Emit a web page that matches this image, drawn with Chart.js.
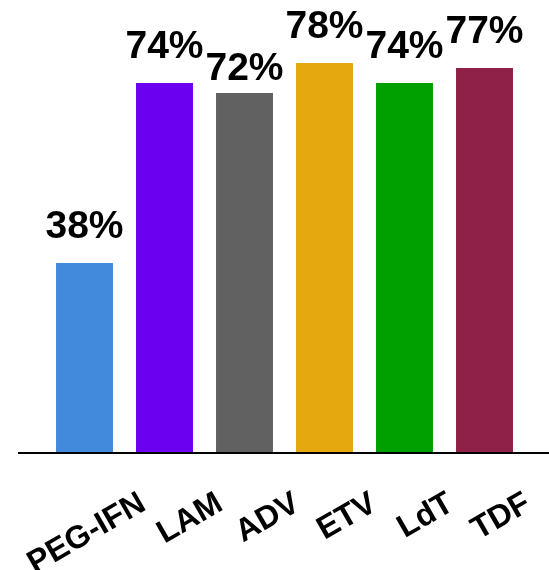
<!DOCTYPE html>
<html>
<head>
<meta charset="utf-8">
<script src="https://cdn.jsdelivr.net/npm/chart.js@4/dist/chart.umd.min.js"></script>
<style>
  html, body { margin: 0; padding: 0; background: #ffffff; }
  #wrap { position: relative; width: 549px; height: 570px; }
</style>
</head>
<body>
<div id="wrap"><canvas id="chart"></canvas></div>
<script>
// Treatment arms and their response rates (%)
const treatments = ['PEG-IFN', 'LAM', 'ADV', 'ETV', 'LdT', 'TDF'];
const responseRates = [38, 74, 72, 78, 74, 77];
const barColors = ['#428adc', '#6b00f0', '#616161', '#e5a80e', '#00a000', '#8f2148'];

const FONT = '"Liberation Sans", Arial, Helvetica, sans-serif';

// Percentage labels above bars, rotated category names below, and the base line
const annotate = {
  id: 'annotate',
  afterDatasetsDraw(chart, args, opts) {
    const ctx = chart.ctx;
    const meta = chart.getDatasetMeta(0);
    const yScale = chart.scales.y;
    const baseY = yScale.getPixelForValue(0);

    ctx.save();
    // base line
    ctx.strokeStyle = '#000000';
    ctx.lineWidth = 2;
    ctx.beginPath();
    ctx.moveTo(opts.lineStart, baseY);
    ctx.lineTo(chart.width, baseY);
    ctx.stroke();

    // value labels
    ctx.fillStyle = '#000000';
    ctx.font = 'bold 39px ' + FONT;
    ctx.textAlign = 'center';
    ctx.textBaseline = 'alphabetic';
    meta.data.forEach((bar, i) => {
      const drop = opts.labelDrop[i] || 0;
      ctx.fillText(responseRates[i] + '%', bar.x, bar.y - opts.labelGap + drop);
    });

    // category names, rotated
    ctx.font = 'bold 32px ' + FONT;
    ctx.textAlign = 'right';
    meta.data.forEach((bar, i) => {
      ctx.save();
      ctx.translate(bar.x + opts.nameShift - opts.nameDrift * i, opts.nameY);
      ctx.rotate(-Math.PI / 6);
      ctx.fillText(treatments[i], 0, 0);
      ctx.restore();
    });
    ctx.restore();
  }
};

new Chart(document.getElementById('chart'), {
  type: 'bar',
  data: {
    labels: treatments,
    datasets: [{
      data: responseRates,
      backgroundColor: barColors,
      borderWidth: 0,
      categoryPercentage: 0.8,
      barPercentage: 0.89
    }]
  },
  options: {
    responsive: true,
    maintainAspectRatio: false,
    animation: false,
    layout: { padding: { left: 44.5, right: 24.5, top: 3, bottom: 117 } },
    scales: {
      x: { display: false },
      y: { display: false, min: 0, max: 90 }
    },
    plugins: {
      legend: { display: false },
      tooltip: { enabled: false },
      annotate: {
        lineStart: 18,
        labelGap: 25,
        labelDrop: { 2: 12 },
        nameShift: 63,
        nameDrift: 3,
        nameY: 509
      }
    }
  },
  plugins: [annotate]
});
</script>
</body>
</html>
